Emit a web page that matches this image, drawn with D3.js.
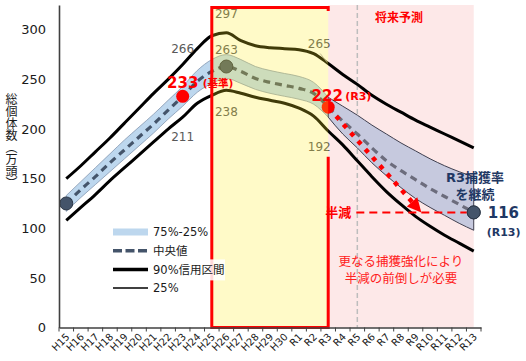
<!DOCTYPE html>
<html><head><meta charset="utf-8">
<script src="https://cdn.jsdelivr.net/npm/d3@7"></script>
<style>
body{margin:0;background:#fff}
svg{display:block}
text{font-family:"DejaVu Sans","Noto Sans CJK JP",sans-serif}
</style>
</head><body>
<svg id="c" width="526" height="361"></svg>
<script>
// ---------- data ----------
const categories = ["H15","H16","H17","H18","H19","H20","H21","H22","H23","H24","H25","H26","H27","H28","H29","H30",
  "R1","R2","R3","R4","R5","R6","R7","R8","R9","R10","R11","R12","R13"];
const median  = [125,139,152,166,179,192,205,219,233,248,258,263,258,251,247,244,241,236,222,208,195,181,168,158,149,140,132,124,116];
const band75  = [133,147,161,175,189,202,215,229,243,259,270,275,270,263,259,256,253,247,232,223,214,204,195,186,178,170,163,157,152];
const band25  = [117,131,144,157,170,183,196,210,223,237,246,251,246,240,236,233,230,225,212,195,181,166,153,141,130,121,113,105,98];
const upper90 = [150,163,177,191,206,221,236,250,265,281,294,297,289,284,282,281,280,276,266,255,245,234,225,217,209,202,195,188,181];
const lower90 = [108,121,134,148,161,174,187,200,212,226,234,239,236,232,229,226,221,213,198,184,168,152,137,124,112,102,93,85,77];
const yTicks = [0,50,100,150,200,250,300];
const lastObserved = "R3";
const highlightFrom = "H25", highlightTo = "R3";
const forecastDivider = "R5";
const halfValue = 116;
const arrowEndIndex = 24.4;
const grayLabels = [ // value labels on the credible interval
  {c:"H23", v:"266", side:"up"}, {c:"H23", v:"211", side:"down"},
  {c:"H26", v:"297", side:"up"}, {c:"H26", v:"263", side:"mid"}, {c:"H26", v:"238", side:"down"},
  {c:"R3",  v:"265", side:"up"}, {c:"R3",  v:"192", side:"down"}];
const keyPoints = [ {c:"H15", v:125, col:"#44546a"}, {c:"H23", v:233, col:"#ff0000"},
  {c:"H26", v:263, col:"#44546a"}, {c:"R3", v:222, col:"#ff0000"}, {c:"R13", v:116, col:"#44546a"} ];
const legendItems = ["75%-25%","中央値","90%信用区間","25%"];

// ---------- scales ----------
const svg = d3.select("#c");
const x = d3.scaleBand().domain(categories).range([59,481]);
const cx = c => x(c) + x.bandwidth()/2;
const N = categories.length;
const xi = d3.scaleLinear().domain([0,N-1]).range([cx(categories[0]), cx(categories[N-1])]);
const y = d3.scaleLinear().domain([0,325]).range([327.5,5]);
const rows = categories.map((c,i)=>({c,i,m:median[i],b75:band75[i],b25:band25[i],u:upper90[i],l:lower90[i]}));
const iObs = categories.indexOf(lastObserved);
const hist = rows.slice(0,iObs+1), fut = rows.slice(iObs);

// ---------- background regions ----------
svg.append("rect").attr("x",cx(lastObserved)).attr("y",y(325))
  .attr("width",cx(categories[N-1])-cx(lastObserved)).attr("height",y(0)-y(325))
  .attr("fill","#fde8e8");
svg.append("line").attr("x1",cx(forecastDivider)).attr("x2",cx(forecastDivider))
  .attr("y1",y(325)).attr("y2",y(0)).attr("stroke","#bdbdbd").attr("stroke-width",1.5)
  .attr("stroke-dasharray","5,3");

// ---------- band ----------
const area = d3.area().x(d=>xi(d.i)).y0(d=>y(d.b25)).y1(d=>y(d.b75)).curve(d3.curveMonotoneX);
svg.append("path").datum(hist).attr("d",area).attr("fill","#bdd7ee").attr("stroke","#8497b0").attr("stroke-width",0.8);
svg.append("path").datum(fut).attr("d",area).attr("fill","#c6c9de").attr("stroke","#3f3f4f").attr("stroke-width",1);

// ---------- lines ----------
const line = key => d3.line().x(d=>xi(d.i)).y(d=>y(d[key])).curve(d3.curveMonotoneX);
svg.append("path").datum(rows).attr("d",line("u")).attr("fill","none").attr("stroke","#000").attr("stroke-width",3);
svg.append("path").datum(rows).attr("d",line("l")).attr("fill","none").attr("stroke","#000").attr("stroke-width",3);
svg.append("path").datum(hist).attr("d",line("m")).attr("fill","none").attr("stroke","#44546a").attr("stroke-width",3.2).attr("stroke-dasharray","7,5");
svg.append("path").datum(fut).attr("d",line("m")).attr("fill","none").attr("stroke","#6c6c7c").attr("stroke-width",3.2).attr("stroke-dasharray","7,5");

// ---------- key points ----------
svg.selectAll("circle.k").data(keyPoints).join("circle")
  .attr("cx",d=>cx(d.c)).attr("cy",d=>y(d.v)).attr("r",6.5)
  .attr("fill",d=>d.col).attr("stroke",d=>d.col==="#ff0000"?"none":"#2b3646").attr("stroke-width",1);

// ---------- gray labels ----------
const dyFor = {up:-12, mid:-13, down:24};
grayLabels.forEach(g=>{
  const i = categories.indexOf(g.c);
  const base = g.side==="up"?upper90[i]:g.side==="down"?lower90[i]:median[i];
  let tx = cx(g.c), ty = y(base)+dyFor[g.side];
  if (g.c==="R3") { tx -= 9; ty = g.side==="up" ? y(base)-16 : y(base)+20; }
  if (g.c==="H26" && g.side==="up") ty = y(base)-15;
  if (g.c==="H26" && g.side==="down") ty = y(base)+26;
  svg.append("text").attr("x",tx).attr("y",ty).attr("text-anchor","middle")
    .attr("font-size",12).attr("fill","#595959").text(g.v);
});
// leader for 265
svg.append("line").attr("x1",cx("R3")-8).attr("y1",y(upper90[iObs])-10)
  .attr("x2",cx("R3")-1).attr("y2",y(upper90[iObs])-1).attr("stroke","#9a9a9a").attr("stroke-width",0.8);

// ---------- yellow highlight ----------
const hx0 = cx(highlightFrom), hx1 = cx(highlightTo);
svg.append("rect").attr("x",hx0).attr("y",y(322.5)).attr("width",hx1-hx0).attr("height",y(0)-y(322.5))
  .attr("fill","#ffeb23").attr("opacity",0.25);
const gapTop = y(172);
svg.append("path")
  .attr("d",`M${hx1},${gapTop}V${y(0)}H${hx0}V${y(322.5)}H${hx1}V${y(319)}`)
  .attr("fill","none").attr("stroke","#ff0000").attr("stroke-width",3);

// ---------- axes ----------
const yAxis = d3.axisLeft(y).tickValues(yTicks).tickSize(0).tickPadding(13).tickSizeOuter(0);
const gy = svg.append("g").attr("transform","translate(59,0)").call(yAxis);
gy.select(".domain").attr("stroke","#404040").attr("stroke-width",1.6);
gy.selectAll(".tick text").attr("font-size",13).attr("fill","#1a1a1a").attr("font-family","DejaVu Sans");

const xAxis = d3.axisBottom(x).tickSize(0).tickSizeOuter(0).tickFormat(d=>d);
const gx = svg.append("g").attr("transform",`translate(0,${y(0)})`).call(xAxis);
gx.select(".domain").attr("stroke","#404040").attr("stroke-width",1.6);
gx.selectAll(".tick text").attr("font-size",10).attr("fill","#1a1a1a")
  .attr("text-anchor","end").attr("dy",0).attr("y",0)
  .attr("transform","translate(4,10) rotate(-45)");
svg.selectAll("line.xt").data(categories.map(c=>x(c)).concat([x.range()[1]])).join("line")
  .attr("class","xt").attr("x1",d=>d).attr("x2",d=>d).attr("y1",y(0)).attr("y2",y(0)+4)
  .attr("stroke","#404040").attr("stroke-width",1);

// y title
svg.append("text").attr("x",10).attr("y",93)
  .style("writing-mode","vertical-rl").attr("font-size",12).attr("fill","#1a1a1a")
  .attr("font-family","Noto Sans CJK JP").text("総個体数（万頭）");

// ---------- annotations ----------
svg.append("text").attr("x",(cx("R3")+cx("R13"))/2-2).attr("y",22).attr("text-anchor","middle")
  .attr("font-size",12).attr("font-weight","bold").attr("fill","#ff0000").text("将来予測");

// 233 (基準)
svg.append("text").attr("x",cx("H23")).attr("y",y(233)-8).attr("text-anchor","middle")
  .attr("font-size",15).attr("font-weight","bold").attr("fill","#ff0000").text("233");
svg.append("text").attr("x",cx("H23")+20).attr("y",y(233)-9)
  .attr("font-size",10.5).attr("font-weight","bold").attr("fill","#ff0000").text("(基準)");
// 222 (R3)
svg.append("text").attr("x",cx("R3")-1).attr("y",y(222)-6).attr("text-anchor","middle")
  .attr("font-size",15).attr("font-weight","bold").attr("fill","#ff0000").text("222");
svg.append("text").attr("x",cx("R3")+17).attr("y",y(222)-7)
  .attr("font-size",11).attr("font-weight","bold").attr("fill","#ff0000").text("(R3)");

// half line
svg.append("line").attr("x1",cx(forecastDivider)-1).attr("x2",cx("R13")-7)
  .attr("y1",y(halfValue)).attr("y2",y(halfValue))
  .attr("stroke","#ff0000").attr("stroke-width",2).attr("stroke-dasharray","8,5");
svg.append("text").attr("x",cx(forecastDivider)-6).attr("y",y(halfValue)+5).attr("text-anchor","end")
  .attr("font-size",13).attr("font-weight","bold").attr("fill","#ff0000").text("半減");
// redraw R13 circle over dashes
svg.append("circle").attr("cx",cx("R13")).attr("cy",y(116)).attr("r",6.5).attr("fill","#44546a").attr("stroke","#2b3646");

// red dotted arrow
const sx = cx(lastObserved), sy = y(median[iObs]);
const ex = xi(arrowEndIndex), ey = y(halfValue);
const L = Math.hypot(ex-sx, ey-sy), ux=(ex-sx)/L, uy=(ey-sy)/L;
svg.append("line").attr("x1",sx+ux*12).attr("y1",sy+uy*12).attr("x2",ex-ux*12).attr("y2",ey-uy*12)
  .attr("stroke","#ff0000").attr("stroke-width",4.5).attr("stroke-dasharray","4.5,6.5");
const ah=14, aw=7;
const bx=ex-ux*ah, by=ey-uy*ah;
svg.append("path").attr("d",`M${ex},${ey}L${bx-uy*aw},${by+ux*aw}L${bx+uy*aw},${by-ux*aw}Z`).attr("fill","#ff0000");

// R3捕獲率を継続
svg.append("text").attr("x",475).attr("y",y(150)+3).attr("text-anchor","middle")
  .attr("font-size",13).attr("font-weight","bold").attr("fill","#1f3864").text("R3捕獲率");
svg.append("text").attr("x",475).attr("y",y(133)+3).attr("text-anchor","middle")
  .attr("font-size",13).attr("font-weight","bold").attr("fill","#1f3864").text("を継続");
svg.append("text").attr("x",cx("R13")+14).attr("y",y(116)+6)
  .attr("font-size",15).attr("font-weight","bold").attr("fill","#1f3864").text("116");
svg.append("text").attr("x",cx("R13")+13).attr("y",y(116)+24)
  .attr("font-size",11).attr("font-weight","bold").attr("fill","#1f3864").text("(R13)");

svg.append("text").attr("x",401).attr("y",y(62)).attr("text-anchor","middle")
  .attr("font-size",12.5).attr("fill","#ff2020").text("更なる捕獲強化により");
svg.append("text").attr("x",401).attr("y",y(45)).attr("text-anchor","middle")
  .attr("font-size",12.5).attr("fill","#ff2020").text("半減の前倒しが必要");

// ---------- legend ----------
const lg = svg.append("g").attr("transform","translate(113,232)");
const rowH = 18.7;
lg.append("rect").attr("x",38).attr("y",2*rowH-10).attr("width",74).attr("height",21).attr("fill","#fff").attr("opacity",0.85);
lg.append("rect").attr("x",0).attr("y",-3.5).attr("width",35).attr("height",7).attr("fill","#bdd7ee");
lg.append("line").attr("x1",0).attr("x2",35).attr("y1",rowH).attr("y2",rowH).attr("stroke","#44546a").attr("stroke-width",3.5).attr("stroke-dasharray","9,3.5");
lg.append("line").attr("x1",0).attr("x2",35).attr("y1",2*rowH).attr("y2",2*rowH).attr("stroke","#000").attr("stroke-width",3.5);
lg.append("line").attr("x1",0).attr("x2",35).attr("y1",3*rowH).attr("y2",3*rowH).attr("stroke","#000").attr("stroke-width",1.5);
lg.selectAll("text").data(legendItems).join("text")
  .attr("x",40).attr("y",(d,i)=>i*rowH).attr("dy","0.36em")
  .attr("font-size",11.5).attr("fill","#1a1a1a").text(d=>d);
</script>
</body></html>
